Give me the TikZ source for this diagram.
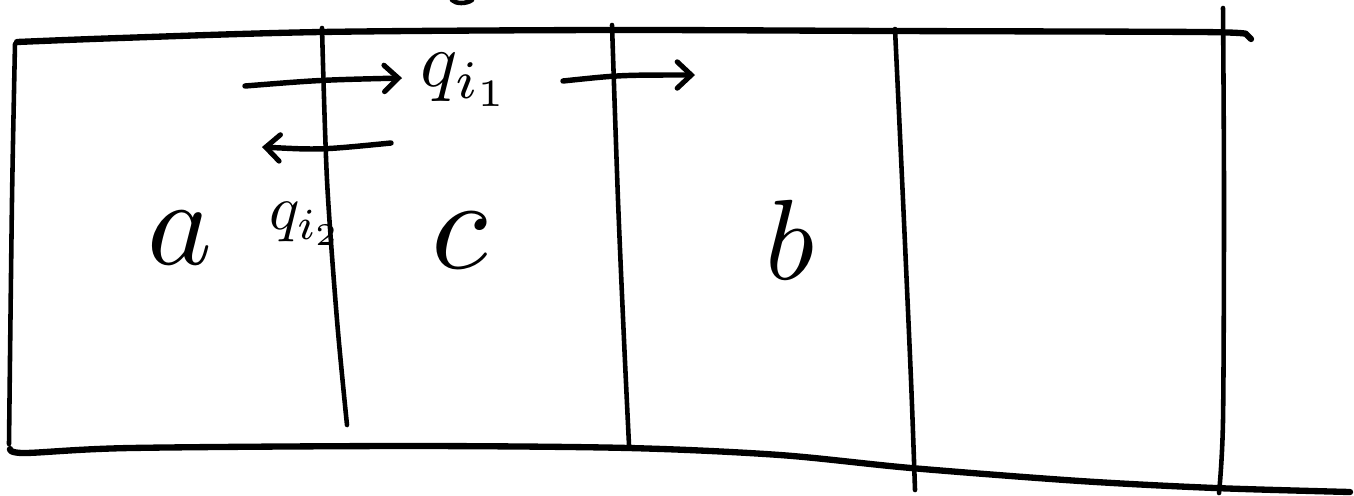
\documentclass[tikz,border=0pt]{standalone}
\usepackage{graphicx}
\usetikzlibrary{arrows.meta}
\begin{document}
\begin{tikzpicture}[x=0.02cm,y=-0.02cm,
  edgeline/.style={line width=3.6pt, line cap=round, line join=round},
  wall/.style={line width=2.6pt, line cap=round, line join=round},
  flux/.style={line width=3.1pt, line cap=round,
    -{Straight Barb[length=8pt,width=15pt,line width=2.9pt,line cap=round]}},
  lbl/.style={inner sep=0pt, outer sep=0pt}]
\useasboundingbox (0,0) rectangle (1354,495);
% outer horizontal edges
\draw[edgeline] plot[smooth] coordinates {(17,42) (120,38) (321,32) (608,30) (894,31) (1200,32) (1246,34)} -- (1251,39);
\draw[edgeline] plot[smooth] coordinates {(10,449) (25,453) (130,448) (408,446) (629,448) (780,455) (911,468) (1080,481) (1215,488) (1350,492)};
% vertical walls
\draw[wall] plot[smooth] coordinates {(15,44) (12,200) (9,444)};
\draw[wall] plot[smooth] coordinates {(322,28) (327,180) (337,320) (347,425)};
\draw[wall] plot[smooth] coordinates {(612,25) (618,200) (624,340) (629,445)};
\draw[wall] plot[smooth] coordinates {(895,29) (903,200) (911,380) (915,490)};
\draw[wall] plot[smooth] coordinates {(1223,8) (1224,200) (1223,420) (1219,493)};
% partial stroke at top edge
\draw[wall] (452,0) .. controls (456,4) and (466,4) .. (472,0);
% flux arrows
\coordinate (f1s) at (245,86);
\coordinate (f1e) at (402,78);
\coordinate (f2s) at (563,81);
\coordinate (f2e) at (695,75);
\coordinate (f3s) at (391,143);
\coordinate (f3e) at (262,147);
\draw[flux] (f1s) .. controls (320,80) .. (f1e);
\draw[flux] (f2s) .. controls (620,75) .. (f2e);
\draw[flux] (f3s) .. controls (320,150) .. (f3e);
% labels
\node[lbl] (q1) at (466,80) {\scalebox{4.4}{$q_{i_1}$}};
\node[lbl] (q2) at (306,224) {\scalebox{3.6}{$q_{i_2}$}};
\node[lbl] (a) at (180,238) {\scalebox{7}{$a$}};
\node[lbl] (c) at (460,240) {\scalebox{7.4}{$c$}};
\node[lbl] (b) at (790,240) {\scalebox{6.5}{$b$}};
\end{tikzpicture}
\end{document}
